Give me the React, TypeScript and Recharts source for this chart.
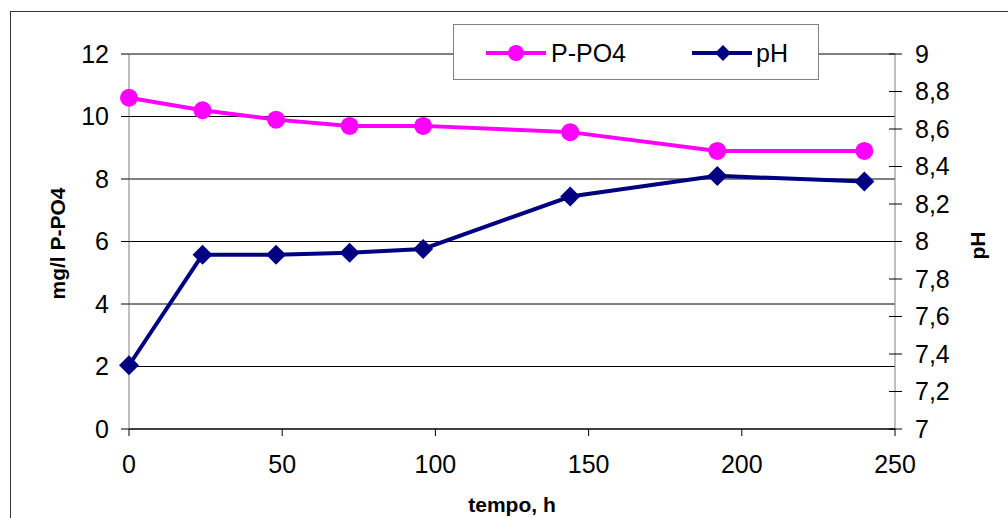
import { LineChart, Line, XAxis, YAxis, CartesianGrid, Label } from 'recharts'

const hours = [0, 24, 48, 72, 96, 144, 192, 240]
const po4 = [10.6, 10.2, 9.9, 9.7, 9.7, 9.5, 8.9, 8.9]
const ph = [7.34, 7.93, 7.93, 7.94, 7.96, 8.24, 8.35, 8.32]

const xTicks = [0, 50, 100, 150, 200, 250]
const leftTicks = [0, 2, 4, 6, 8, 10, 12]
const rightTicks = [7, 7.2, 7.4, 7.6, 7.8, 8, 8.2, 8.4, 8.6, 8.8, 9]

const data = hours.map((t, i) => ({ t, po4: po4[i], ph: ph[i] }))

const FONT = '"Liberation Sans", Arial, sans-serif'
const PINK = '#FF00FF'
const NAVY = '#000080'

const fmtComma = (v: number) => {
  const r = Math.round(v * 10) / 10
  return Number.isInteger(r) ? String(r) : r.toFixed(1).replace('.', ',')
}

function CircleDot(props: any) {
  const { cx, cy, index } = props
  if (cx == null || cy == null) return <g key={`c-${index}`} />
  return <circle key={`c-${index}`} cx={cx} cy={cy} r={9} fill={PINK} />
}

function DiamondDot(props: any) {
  const { cx, cy, index } = props
  if (cx == null || cy == null) return <g key={`d-${index}`} />
  const s = 10
  return (
    <path
      key={`d-${index}`}
      d={`M${cx},${cy - s}L${cx + s},${cy}L${cx},${cy + s}L${cx - s},${cy}Z`}
      fill={NAVY}
    />
  )
}

function RightTick(props: any) {
  const { x, y, payload } = props
  // inner half of the cross-shaped tick mark
  const axisX = x - 20
  return (
    <g>
      <line x1={axisX - 6} x2={axisX} y1={y} y2={y} stroke="#000" />
      <text x={x} y={y} dy="0.355em" textAnchor="start" fill="#000" fontSize={25} fontFamily={FONT}>
        {fmtComma(payload.value)}
      </text>
    </g>
  )
}

function LegendBox() {
  return (
    <div
      style={{
        position: 'absolute',
        left: 453,
        top: 24,
        width: 364,
        height: 54,
        background: '#fff',
        border: '1px solid #808080',
      }}
    >
      <svg width={364} height={54} style={{ display: 'block' }}>
        <line x1={32} x2={92} y1={28} y2={28} stroke={PINK} strokeWidth={4} />
        <circle cx={62} cy={28} r={8} fill={PINK} />
        <text x={97} y={28} dy="0.355em" fontSize={25} fontFamily={FONT} fill="#000">P-PO4</text>
        <line x1={238} x2={298} y1={28} y2={28} stroke={NAVY} strokeWidth={4} />
        <path d="M269,20L277,28L269,36L261,28Z" fill={NAVY} />
        <text x={302} y={28} dy="0.355em" fontSize={25} fontFamily={FONT} fill="#000">pH</text>
      </svg>
    </div>
  )
}

export default function App() {
  return (
    <div
      style={{
        position: 'fixed',
        left: 0,
        top: 0,
        width: 1008,
        height: 518,
        overflow: 'hidden',
        background: '#fff',
        fontFamily: FONT,
      }}
    >
      <div
        style={{
          position: 'absolute',
          left: 10,
          top: 11,
          width: 1100,
          height: 600,
          border: '1px solid #333',
        }}
      />
      <div style={{ position: 'absolute', left: 0, top: 0 }}>
        <LineChart width={1008} height={518} data={data} margin={{ top: 54, right: 53, bottom: 59, left: 69 }}>
          <CartesianGrid yAxisId="left" vertical={false} stroke="#000" strokeWidth={1} />
          <XAxis
            dataKey="t"
            type="number"
            domain={[0, 250]}
            ticks={xTicks}
            height={30}
            tickSize={7}
            tickMargin={19}
            axisLine={{ stroke: '#000' }}
            tickLine={{ stroke: '#000' }}
            tick={{ fill: '#000', fontSize: 25, fontFamily: FONT }}
          >
            <Label
              content={({ viewBox }: any) => (
                <text
                  x={viewBox.x + viewBox.width / 2}
                  y={viewBox.y + 83}
                  textAnchor="middle"
                  fontSize={21}
                  fontWeight="bold"
                  fontFamily={FONT}
                  fill="#000"
                >
                  tempo, h
                </text>
              )}
            />
          </XAxis>
          <YAxis
            yAxisId="left"
            domain={[0, 12]}
            ticks={leftTicks}
            width={60}
            tickSize={8}
            tickMargin={12}
            axisLine={{ stroke: '#808080' }}
            tickLine={{ stroke: '#000' }}
            tick={{ fill: '#000', fontSize: 25, fontFamily: FONT }}
          >
            <Label
              content={({ viewBox }: any) => {
                const cx = viewBox.x - 12
                const cy = viewBox.y + viewBox.height / 2 + 2
                return (
                  <text
                    x={cx}
                    y={cy}
                    transform={`rotate(-90 ${cx} ${cy})`}
                    textAnchor="middle"
                    dominantBaseline="central"
                    fontSize={21}
                    fontWeight="bold"
                    fontFamily={FONT}
                    fill="#000"
                  >
                    mg/l P-PO4
                  </text>
                )
              }}
            />
          </YAxis>
          <YAxis
            yAxisId="right"
            orientation="right"
            domain={[7, 9]}
            ticks={rightTicks}
            width={60}
            tickSize={7}
            tickMargin={13}
            axisLine={{ stroke: '#808080' }}
            tickLine={{ stroke: '#000' }}
            tick={<RightTick />}
          >
            <Label
              content={({ viewBox }: any) => {
                const cx = viewBox.x + 82
                const cy = viewBox.y + viewBox.height / 2 + 4
                return (
                  <text
                    x={cx}
                    y={cy}
                    transform={`rotate(-90 ${cx} ${cy})`}
                    textAnchor="middle"
                    dominantBaseline="central"
                    fontSize={21}
                    fontWeight="bold"
                    fontFamily={FONT}
                    fill="#000"
                  >
                    pH
                  </text>
                )
              }}
            />
          </YAxis>
          <Line
            yAxisId="left"
            type="linear"
            dataKey="po4"
            stroke={PINK}
            strokeWidth={4}
            dot={CircleDot}
            activeDot={false}
            isAnimationActive={false}
          />
          <Line
            yAxisId="right"
            type="linear"
            dataKey="ph"
            stroke={NAVY}
            strokeWidth={4}
            dot={DiamondDot}
            activeDot={false}
            isAnimationActive={false}
          />
        </LineChart>
      </div>
      <LegendBox />
    </div>
  )
}
